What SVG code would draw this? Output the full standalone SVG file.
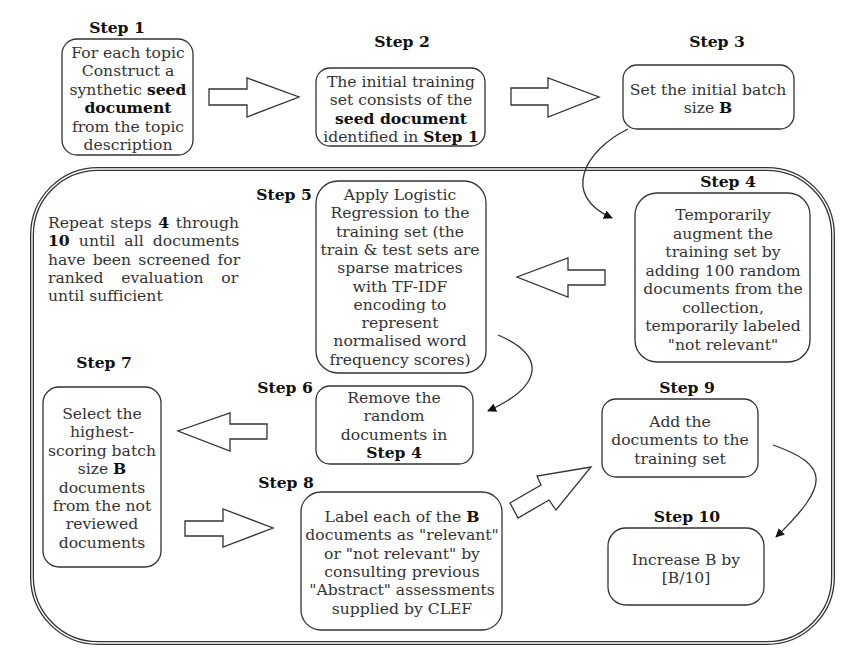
<svg xmlns="http://www.w3.org/2000/svg" width="842" height="655" viewBox="0 0 842 655" font-family="'DejaVu Serif', serif">
<style>
text{font-family:'DejaVu Serif',serif;font-size:15.6px;fill:#333}
.lbl{font-weight:bold;fill:#111;text-anchor:middle}
.t{text-anchor:middle}
.b{font-weight:bold;fill:#111}
.box{fill:#fff;stroke:#333;stroke-width:1.3}
.blk{fill:#fff;stroke:#333;stroke-width:1.3;stroke-linejoin:miter}
.cur{fill:none;stroke:#333;stroke-width:1.3}
</style>
<defs>
<marker id="ah" viewBox="0 0 10 10" refX="9" refY="5" markerWidth="9" markerHeight="9" markerUnits="userSpaceOnUse" orient="auto">
<path d="M0,0 L10,5 L0,10 z" fill="#111"/>
</marker>
</defs>
<rect width="842" height="655" fill="#fff"/>

<g id="frame">
<rect x="32" y="169" width="801" height="474" rx="66" fill="none" stroke="#333" stroke-width="4"/>
<rect x="32" y="169" width="801" height="474" rx="66" fill="none" stroke="#fff" stroke-width="1.4"/>
</g>

<g id="repeat-note">
<text x="48" y="228" word-spacing="1.6">Repeat steps <tspan class="b">4</tspan> through</text>
<text x="48" y="246" word-spacing="4.2"><tspan class="b">10</tspan> until all documents</text>
<text x="48" y="265" word-spacing="2.3">have been screened for</text>
<text x="48" y="283" word-spacing="12.8">ranked evaluation or</text>
<text x="48" y="301">until sufficient</text>
</g>

<g id="step1">
<text class="lbl" x="117" y="33">Step 1</text>
<rect class="box" x="62" y="39" width="131" height="116" rx="15"/>
<text class="t" x="128" y="58">For each topic<tspan x="128" dy="18.4">Construct a</tspan><tspan x="128" dy="18.4">synthetic <tspan class="b">seed</tspan></tspan><tspan x="128" dy="18.4" class="b">document</tspan><tspan x="128" dy="18.4">from the topic</tspan><tspan x="128" dy="18.4">description</tspan></text>
</g>

<g id="step2">
<text class="lbl" x="402" y="47">Step 2</text>
<rect class="box" x="316" y="68" width="169" height="78" rx="14"/>
<text class="t" x="401" y="87">The initial training<tspan x="401" dy="18.3">set consists of the</tspan><tspan x="401" dy="18.3" class="b">seed document</tspan><tspan x="401" dy="18.3">identified in <tspan class="b">Step 1</tspan></tspan></text>
</g>

<g id="step3">
<text class="lbl" x="717" y="47">Step 3</text>
<rect class="box" x="623" y="65" width="171" height="64" rx="14"/>
<text class="t" x="708" y="95">Set the initial batch<tspan x="708" dy="18.3">size <tspan class="b">B</tspan></tspan></text>
</g>

<g id="step4">
<text class="lbl" x="728" y="187">Step 4</text>
<rect class="box" x="635" y="193" width="175" height="169" rx="22"/>
<text class="t" x="723" y="220">Temporarily<tspan x="723" dy="18.5">augment the</tspan><tspan x="723" dy="18.5">training set by</tspan><tspan x="723" dy="18.5">adding 100 random</tspan><tspan x="723" dy="18.5">documents from the</tspan><tspan x="723" dy="18.5">collection,</tspan><tspan x="723" dy="18.5">temporarily labeled</tspan><tspan x="723" dy="18.5">"not relevant"</tspan></text>
</g>

<g id="step5">
<text class="lbl" x="284" y="200">Step 5</text>
<rect class="box" x="316" y="181" width="170" height="192" rx="22"/>
<text class="t" x="400" y="200">Apply Logistic<tspan x="400" dy="18.3">Regression to the</tspan><tspan x="400" dy="18.3">training set (the</tspan><tspan x="400" dy="18.3">train &amp; test sets are</tspan><tspan x="400" dy="18.3">sparse matrices</tspan><tspan x="400" dy="18.3">with TF-IDF</tspan><tspan x="400" dy="18.3">encoding to</tspan><tspan x="400" dy="18.3">represent</tspan><tspan x="400" dy="18.3">normalised word</tspan><tspan x="400" dy="18.3">frequency scores)</tspan></text>
</g>

<g id="step6">
<text class="lbl" x="285" y="393">Step 6</text>
<rect class="box" x="316" y="386" width="157" height="78" rx="14"/>
<text class="t" x="394" y="403">Remove the<tspan x="394" dy="18.3">random</tspan><tspan x="394" dy="18.3">documents in</tspan><tspan x="394" dy="18.3" class="b">Step 4</tspan></text>
</g>

<g id="step7">
<text class="lbl" x="104" y="368">Step 7</text>
<rect class="box" x="43" y="387" width="118" height="180" rx="16"/>
<text class="t" x="102" y="419">Select the<tspan x="102" dy="18.4">highest-</tspan><tspan x="102" dy="18.4">scoring batch</tspan><tspan x="102" dy="18.4">size <tspan class="b">B</tspan></tspan><tspan x="102" dy="18.4">documents</tspan><tspan x="102" dy="18.4">from the not</tspan><tspan x="102" dy="18.4">reviewed</tspan><tspan x="102" dy="18.4">documents</tspan></text>
</g>

<g id="step8">
<text class="lbl" x="286" y="488">Step 8</text>
<rect class="box" x="301" y="492" width="201" height="138" rx="20"/>
<text class="t" x="402" y="522">Label each of the <tspan class="b">B</tspan><tspan x="402" dy="18.3">documents as "relevant"</tspan><tspan x="402" dy="18.3">or "not relevant" by</tspan><tspan x="402" dy="18.3">consulting previous</tspan><tspan x="402" dy="18.3">"Abstract" assessments</tspan><tspan x="402" dy="18.3">supplied by CLEF</tspan></text>
</g>

<g id="step9">
<text class="lbl" x="687" y="393">Step 9</text>
<rect class="box" x="602" y="399" width="156" height="78" rx="14"/>
<text class="t" x="680" y="427">Add the<tspan x="680" dy="18.3">documents to the</tspan><tspan x="680" dy="18.3">training set</tspan></text>
</g>

<g id="step10">
<text class="lbl" x="687" y="522">Step 10</text>
<rect class="box" x="608" y="528" width="156" height="77" rx="18"/>
<text class="t" x="686" y="565">Increase B by<tspan x="686" dy="18.3">[B/10]</tspan></text>
</g>

<g id="connectors">
<polygon class="blk" points="209,89 247,89 247,78 299,97 247,117 247,105 209,105"/>
<polygon class="blk" points="511,88 548,88 548,78 599,97 548,117 548,105 511,105"/>
<polygon class="blk" points="605,270 568,270 568,258 517,277 568,297 568,285 605,285"/>
<polygon class="blk" points="267,424 230,424 230,413 178,431 230,451 230,439 267,439"/>
<polygon class="blk" points="185,521 223,521 223,509 273,528 223,547 223,536 185,536"/>
<polygon class="blk" points="510,503 541,485 537,476 591,467 556,510 549,500 518,518"/>
<path class="cur" d="M628,129 C585,150 560,195 612,218" marker-end="url(#ah)"/>
<path class="cur" d="M498,335 C545,355 545,385 488,411" marker-end="url(#ah)"/>
<path class="cur" d="M773,445 C830,465 830,485 776,537" marker-end="url(#ah)"/>
</g>
</svg>
